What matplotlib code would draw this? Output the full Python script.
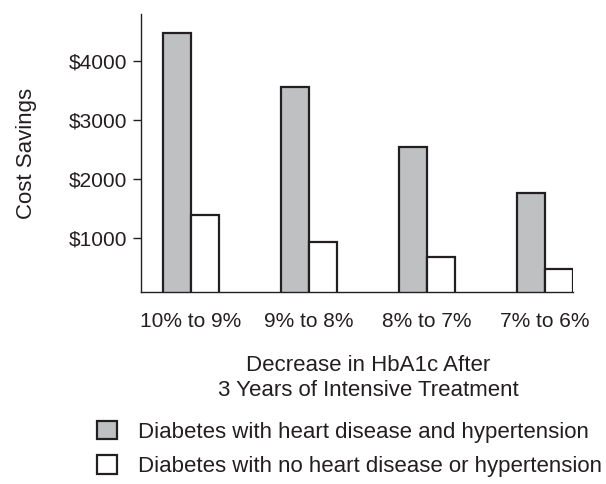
import numpy as np
import matplotlib.pyplot as plt
from matplotlib.ticker import FuncFormatter

plt.rcParams['font.family'] = ['Liberation Sans', 'DejaVu Sans']

# data
groups = ['10% to 9%', '9% to 8%', '8% to 7%', '7% to 6%']
with_hd = [4475, 3555, 2545, 1750]      # heart disease and hypertension
without_hd = [1380, 930, 665, 465]      # no heart disease or hypertension
yticks = [1000, 2000, 3000, 4000]

labels = ['Diabetes with heart disease and hypertension',
          'Diabetes with no heart disease or hypertension']

fs = 15
fs2 = 16
txt = '#231f20'

fig = plt.figure(figsize=(6.06, 4.84), dpi=100)
ax = fig.add_axes([141/606, 1 - 292.3/484, (572.7 - 141)/606, (292.3 - 14)/484])

x = np.arange(len(groups))
w = 0.238
b1 = ax.bar(x - w/2, with_hd, w, color='#bfc0c2', edgecolor='#231f20',
            linewidth=1.6, label=labels[0])
b2 = ax.bar(x + w/2, without_hd, w, color='white', edgecolor='#231f20',
            linewidth=1.6, label=labels[1])

ax.set_xlim(-0.425, 3 + w)
ax.set_ylim(75, 4790)

ax.set_xticks(x)
ax.set_xticklabels(groups, fontsize=fs, color=txt)
ax.tick_params(axis='x', length=0, pad=14)
ax.set_yticks(yticks)
ax.yaxis.set_major_formatter(FuncFormatter(lambda v, p: '$%d' % v))
ax.tick_params(axis='y', length=6, width=1, color=txt, labelsize=fs,
               labelcolor=txt, pad=4)

for s in ['top', 'right']:
    ax.spines[s].set_visible(False)
for s in ['left', 'bottom']:
    ax.spines[s].set_color(txt)
    ax.spines[s].set_linewidth(1)

ax.set_ylabel('Cost Savings', fontsize=fs2, color=txt, labelpad=23)

fig.text(368/606, 1 - 378/484, 'Decrease in HbA1c After\n3 Years of Intensive Treatment',
         ha='center', va='center', fontsize=fs2, color=txt, linespacing=1.3)

fig.legend(handles=[b1, b2], labels=labels, loc='upper left',
           bbox_to_anchor=(97/606, 1 - 421/484), frameon=False, fontsize=fs2,
           handlelength=0.9, handleheight=0.9, handletextpad=0.95,
           labelspacing=0.55, borderpad=0, borderaxespad=0, labelcolor=txt)

fig.savefig('out.png', dpi=100)
